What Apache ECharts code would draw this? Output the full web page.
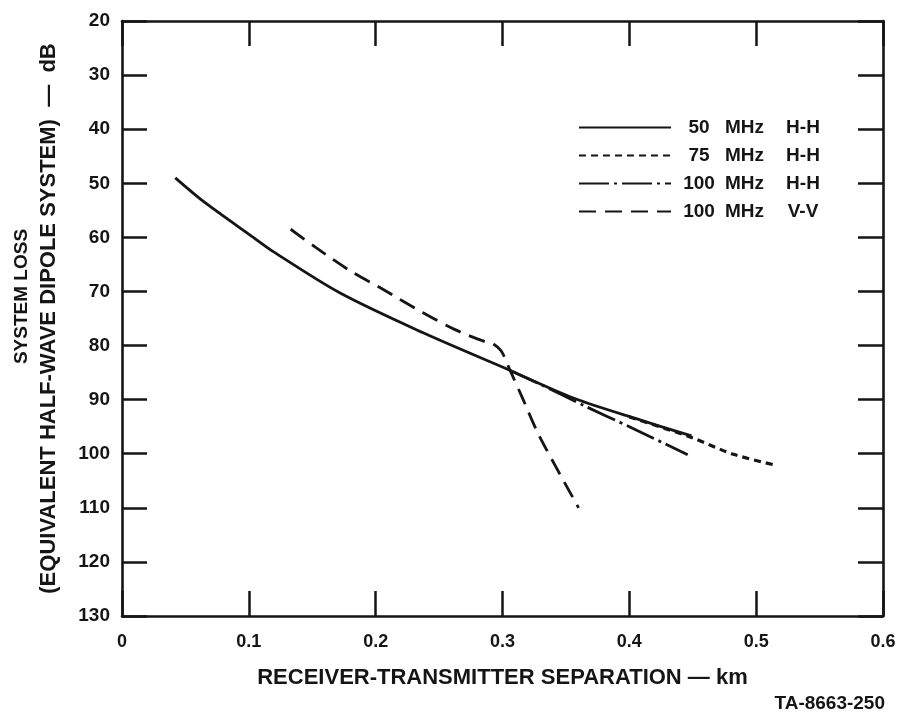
<!DOCTYPE html>
<html>
<head>
<meta charset="utf-8">
<script src="https://cdn.jsdelivr.net/npm/echarts@6/dist/echarts.min.js"></script>
<style>
html,body{margin:0;padding:0;background:#fff;}
#c{width:907px;height:718px;}
</style>
</head>
<body>
<div id="c"></div>
<script>
// ---- data (x: km, y: dB) ----
const x50 = [0.042, 0.065, 0.1035, 0.119, 0.172, 0.237, 0.306, 0.357, 0.409, 0.449];
const y50 = [49, 53.5, 60, 62.6, 70.3, 77.6, 84.6, 89.8, 93.8, 96.7];
const x75 = [0.40, 0.449, 0.482, 0.515];
const y75 = [93.2, 97.0, 100.1, 102.1];
const x100h = [0.306, 0.331, 0.365, 0.40, 0.446];
const y100h = [84.6, 87.3, 91.2, 95.0, 100.2];
const x100v = [0.133, 0.153, 0.180, 0.205, 0.237, 0.263, 0.284, 0.292, 0.299, 0.306, 0.315, 0.329, 0.36];
const y100v = [58.5, 61.9, 66.2, 69.5, 73.9, 77.1, 79.1, 79.6, 81.0, 84.6, 89.3, 96.7, 110];
const seriesNames = ['50 MHz  H-H', '75 MHz  H-H', '100 MHz  H-H', '100 MHz  V-V'];
const legendParts = [['50', 'MHz', 'H-H'], ['75', 'MHz', 'H-H'], ['100', 'MHz', 'H-H'], ['100', 'MHz', 'V-V']];
const xTicks = [0, 0.1, 0.2, 0.3, 0.4, 0.5, 0.6];
const yTicks = [20, 30, 40, 50, 60, 70, 80, 90, 100, 110, 120, 130];
const xTitle = 'RECEIVER-TRANSMITTER SEPARATION — km';
const yTitleLine1 = 'SYSTEM LOSS';
const yTitleLine2 = '(EQUIVALENT HALF-WAVE DIPOLE SYSTEM)  —  dB';
const figId = 'TA-8663-250';

const pairs = (xs, ys) => xs.map((x, i) => [x, ys[i]]);
const INK = '#151515';
const FONT = '"Liberation Sans", Arial, Helvetica, sans-serif';

const chart = echarts.init(document.getElementById('c'), null, {renderer: 'canvas'});

const baseX = {
  type: 'value', min: xTicks[0], max: xTicks[xTicks.length - 1], interval: 0.1,
  axisLine: {show: true, onZero: false, lineStyle: {color: INK, width: 2.6}},
  axisTick: {show: true, inside: true, length: 25, lineStyle: {color: INK, width: 2.5}},
  splitLine: {show: false}
};
const baseY = {
  type: 'value', inverse: true, min: yTicks[0], max: yTicks[yTicks.length - 1], interval: 10,
  axisLine: {show: true, onZero: false, lineStyle: {color: INK, width: 2.6}},
  axisTick: {show: true, inside: true, length: 25, lineStyle: {color: INK, width: 2.5}},
  splitLine: {show: false}
};

const lineCommon = {
  type: 'line', showSymbol: false, symbol: 'none', smooth: 0.3,
  xAxisIndex: 0, yAxisIndex: 0, z: 3
};
const bold = (size) => ({fontFamily: FONT, fontWeight: 'bold', fontSize: size, color: INK});

chart.setOption({
  backgroundColor: '#fff',
  animation: false,
  title: {
    text: figId, right: 22, top: 694, padding: 0,
    textStyle: bold(19)
  },
  grid: {left: 118, right: 24, top: 21, bottom: 102, containLabel: false},
  legend: {
    orient: 'vertical', left: 578, top: 118, padding: 0,
    itemWidth: 92, itemHeight: 14, itemGap: 9,
    data: seriesNames,
    itemStyle: {color: 'rgba(0,0,0,0)', borderColor: 'rgba(0,0,0,0)', borderWidth: 0, opacity: 0},
    formatter: name => {
      const p = legendParts[seriesNames.indexOf(name)];
      return '{a|' + p[0] + '}{b|' + p[1] + '}{c|' + p[2] + '}';
    },
    textStyle: Object.assign(bold(19), {
      rich: {
        a: Object.assign(bold(19), {width: 46, align: 'right'}),
        b: Object.assign(bold(19), {width: 45, align: 'center'}),
        c: Object.assign(bold(19), {width: 72, align: 'center'})
      }
    })
  },
  xAxis: [
    Object.assign({}, baseX, {
      position: 'bottom',
      name: xTitle, nameLocation: 'middle', nameGap: 51,
      nameTextStyle: bold(22),
      axisLabel: Object.assign(bold(18), {show: true, margin: 17,
        formatter: v => String(+v.toFixed(1))})
    }),
    Object.assign({}, baseX, {position: 'top', axisLabel: {show: false}})
  ],
  yAxis: [
    Object.assign({}, baseY, {
      position: 'left',
      name: '{a|' + yTitleLine1 + '}\n{b|' + yTitleLine2 + '}',
      nameLocation: 'middle', nameGap: 60, nameRotate: 90,
      nameTextStyle: Object.assign(bold(19), {
        lineHeight: 27, align: 'center',
        rich: {
          a: Object.assign(bold(19), {lineHeight: 27, padding: [0, 0, 0, 44]}),
          b: Object.assign(bold(22), {lineHeight: 27})
        }
      }),
      axisLabel: Object.assign(bold(19), {show: true, margin: 12})
    }),
    Object.assign({}, baseY, {position: 'right', axisLabel: {show: false}})
  ],
  series: [
    Object.assign({}, lineCommon, {
      name: seriesNames[0], data: pairs(x50, y50),
      lineStyle: {color: INK, width: 2.8, type: 'solid'}, itemStyle: {color: INK}
    }),
    Object.assign({}, lineCommon, {
      name: seriesNames[1], data: pairs(x75, y75),
      lineStyle: {color: INK, width: 3.2, type: [7, 5]}, itemStyle: {color: INK}
    }),
    Object.assign({}, lineCommon, {
      name: seriesNames[2], data: pairs(x100h, y100h),
      lineStyle: {color: INK, width: 2.8, type: [30, 5, 3, 5]}, itemStyle: {color: INK}
    }),
    Object.assign({}, lineCommon, {
      name: seriesNames[3], data: pairs(x100v, y100v),
      lineStyle: {color: INK, width: 2.8, type: [17, 9]}, itemStyle: {color: INK}
    })
  ]
});
</script>
</body>
</html>
